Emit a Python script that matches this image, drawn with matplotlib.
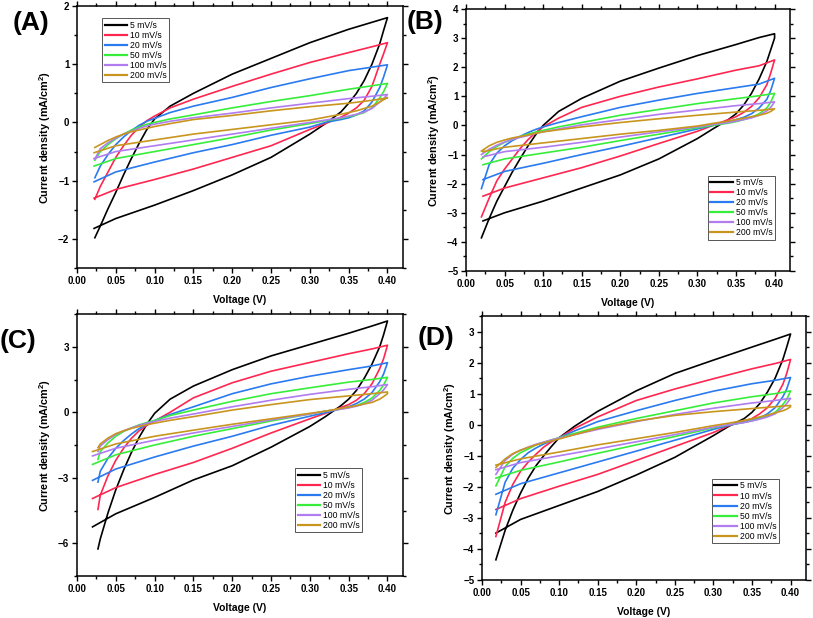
import matplotlib
matplotlib.use('Agg')
import matplotlib.pyplot as plt
from matplotlib.ticker import MultipleLocator

plt.rcParams['font.family'] = ['Liberation Sans', 'DejaVu Sans']
plt.rcParams['mathtext.fontset'] = 'custom'
plt.rcParams['mathtext.rm'] = 'Liberation Sans'
plt.rcParams['mathtext.bf'] = 'Liberation Sans:bold'

rates = ['5 mV/s', '10 mV/s', '20 mV/s', '50 mV/s', '100 mV/s', '200 mV/s']
colors = ['#000000', '#ff2650', '#2a7af0', '#36ee3a', '#b07cf0', '#c8961e']

# forward (anodic) and reverse scans, one row per scan rate
a_v_fwd = [0.023, 0.03, 0.04, 0.05, 0.06, 0.07, 0.08, 0.09, 0.10, 0.12, 0.15, 0.20, 0.25, 0.30, 0.35, 0.38, 0.40]
a_v_rev = [0.40, 0.395, 0.39, 0.38, 0.37, 0.36, 0.35, 0.34, 0.32, 0.30, 0.25, 0.20, 0.15, 0.10, 0.05, 0.022]
a_fwd = [
    [-1.98, -1.78, -1.48, -1.2, -0.9, -0.62, -0.36, -0.12, 0.06, 0.28, 0.5, 0.83, 1.1, 1.37, 1.6, 1.72, 1.80],
    [-1.32, -1.1, -0.85, -0.6, -0.4, -0.22, -0.08, 0.03, 0.11, 0.25, 0.4, 0.62, 0.83, 1.03, 1.2, 1.3, 1.37],
    [-0.95, -0.75, -0.55, -0.38, -0.25, -0.14, -0.05, 0.02, 0.07, 0.17, 0.28, 0.43, 0.6, 0.75, 0.89, 0.95, 0.99],
    [-0.65, -0.5, -0.38, -0.28, -0.2, -0.13, -0.08, -0.03, 0.0, 0.06, 0.13, 0.25, 0.36, 0.46, 0.57, 0.63, 0.67],
    [-0.63, -0.45, -0.35, -0.27, -0.2, -0.15, -0.1, -0.06, -0.03, 0.02, 0.08, 0.16, 0.25, 0.33, 0.41, 0.45, 0.48],
    [-0.43, -0.38, -0.31, -0.25, -0.2, -0.16, -0.13, -0.1, -0.07, -0.02, 0.05, 0.12, 0.2, 0.27, 0.33, 0.38, 0.42],
]
a_rev = [
    [1.80, 1.58, 1.35, 1.0, 0.72, 0.5, 0.33, 0.18, -0.02, -0.2, -0.6, -0.9, -1.17, -1.42, -1.65, -1.82],
    [1.37, 1.18, 1.0, 0.62, 0.38, 0.25, 0.16, 0.09, -0.02, -0.12, -0.4, -0.6, -0.8, -0.98, -1.15, -1.3],
    [0.99, 0.78, 0.6, 0.35, 0.2, 0.13, 0.08, 0.05, 0.0, -0.08, -0.22, -0.38, -0.52, -0.68, -0.85, -1.02],
    [0.67, 0.53, 0.42, 0.25, 0.17, 0.13, 0.1, 0.07, 0.03, -0.02, -0.13, -0.26, -0.38, -0.5, -0.62, -0.75],
    [0.48, 0.41, 0.35, 0.24, 0.18, 0.14, 0.11, 0.08, 0.04, 0.0, -0.1, -0.2, -0.3, -0.4, -0.5, -0.62],
    [0.43, 0.39, 0.35, 0.28, 0.24, 0.2, 0.17, 0.14, 0.09, 0.04, -0.04, -0.12, -0.2, -0.3, -0.4, -0.52],
]

b_v_fwd = [0.02, 0.03, 0.04, 0.05, 0.06, 0.07, 0.08, 0.09, 0.10, 0.12, 0.15, 0.20, 0.25, 0.30, 0.35, 0.38, 0.40]
b_v_rev = [0.40, 0.395, 0.39, 0.38, 0.37, 0.36, 0.35, 0.34, 0.32, 0.30, 0.25, 0.20, 0.15, 0.10, 0.05, 0.022]
b_fwd = [
    [-3.86, -3.2, -2.6, -2.1, -1.6, -1.15, -0.72, -0.33, 0.0, 0.48, 0.93, 1.52, 1.97, 2.4, 2.78, 3.02, 3.15],
    [-3.14, -2.5, -1.9, -1.5, -1.15, -0.8, -0.5, -0.25, -0.05, 0.25, 0.62, 1.0, 1.32, 1.6, 1.9, 2.05, 2.25],
    [-2.17, -1.35, -0.95, -0.7, -0.52, -0.38, -0.25, -0.14, -0.05, 0.1, 0.3, 0.62, 0.87, 1.1, 1.3, 1.42, 1.62],
    [-1.15, -0.9, -0.72, -0.58, -0.48, -0.38, -0.3, -0.23, -0.17, -0.05, 0.1, 0.35, 0.55, 0.75, 0.92, 1.02, 1.1],
    [-1.0, -0.82, -0.68, -0.57, -0.48, -0.41, -0.35, -0.28, -0.22, -0.12, 0.02, 0.2, 0.38, 0.53, 0.68, 0.75, 0.81],
    [-0.88, -0.7, -0.58, -0.5, -0.43, -0.38, -0.33, -0.27, -0.22, -0.15, -0.05, 0.1, 0.23, 0.35, 0.46, 0.52, 0.57],
]
b_rev = [
    [3.0, 2.6, 2.2, 1.6, 1.1, 0.7, 0.4, 0.2, -0.12, -0.45, -1.15, -1.7, -2.15, -2.6, -3.0, -3.28],
    [2.25, 1.8, 1.4, 0.95, 0.65, 0.45, 0.3, 0.2, 0.0, -0.2, -0.62, -1.05, -1.45, -1.8, -2.15, -2.43],
    [1.62, 1.2, 0.9, 0.6, 0.4, 0.28, 0.2, 0.12, 0.0, -0.12, -0.42, -0.72, -1.0, -1.3, -1.58, -1.86],
    [1.1, 0.8, 0.6, 0.4, 0.28, 0.2, 0.13, 0.08, 0.0, -0.08, -0.3, -0.52, -0.75, -0.95, -1.15, -1.35],
    [0.81, 0.62, 0.5, 0.35, 0.26, 0.2, 0.15, 0.1, 0.03, -0.05, -0.22, -0.4, -0.58, -0.75, -0.9, -1.08],
    [0.57, 0.48, 0.42, 0.35, 0.3, 0.25, 0.2, 0.15, 0.07, -0.02, -0.17, -0.3, -0.45, -0.6, -0.75, -0.9],
]

c_v_fwd = [0.027, 0.03, 0.04, 0.05, 0.06, 0.07, 0.08, 0.09, 0.10, 0.12, 0.15, 0.20, 0.25, 0.30, 0.35, 0.38, 0.40]
c_v_rev = [0.40, 0.395, 0.39, 0.38, 0.37, 0.36, 0.35, 0.34, 0.32, 0.30, 0.25, 0.20, 0.15, 0.10, 0.05, 0.02]
c_fwd = [
    [-6.26, -5.8, -4.6, -3.55, -2.65, -1.85, -1.15, -0.55, -0.05, 0.6, 1.2, 1.95, 2.58, 3.1, 3.62, 3.95, 4.18],
    [-4.45, -3.8, -2.9, -2.2, -1.65, -1.2, -0.85, -0.6, -0.4, 0.0, 0.66, 1.35, 1.88, 2.28, 2.68, 2.9, 3.07],
    [-3.2, -2.7, -2.1, -1.65, -1.3, -1.0, -0.75, -0.55, -0.38, -0.1, 0.25, 0.85, 1.3, 1.65, 1.95, 2.12, 2.27],
    [-2.16, -1.8, -1.4, -1.1, -0.88, -0.72, -0.58, -0.47, -0.38, -0.15, 0.1, 0.5, 0.85, 1.12, 1.38, 1.5, 1.6],
    [-1.8, -1.55, -1.25, -1.02, -0.85, -0.72, -0.6, -0.5, -0.42, -0.27, -0.08, 0.25, 0.55, 0.82, 1.05, 1.17, 1.27],
    [-1.62, -1.45, -1.18, -0.98, -0.85, -0.74, -0.65, -0.57, -0.5, -0.37, -0.2, 0.1, 0.35, 0.58, 0.75, 0.85, 0.93],
]
c_rev = [
    [4.18, 3.55, 3.0, 2.2, 1.55, 1.0, 0.6, 0.3, -0.2, -0.65, -1.6, -2.45, -3.1, -3.9, -4.65, -5.25],
    [3.07, 2.45, 2.0, 1.3, 0.85, 0.55, 0.35, 0.22, -0.05, -0.3, -0.95, -1.65, -2.3, -2.85, -3.45, -3.95],
    [2.27, 1.75, 1.4, 0.9, 0.6, 0.4, 0.25, 0.16, -0.02, -0.18, -0.6, -1.1, -1.55, -2.05, -2.6, -3.12],
    [1.6, 1.25, 1.0, 0.65, 0.45, 0.3, 0.22, 0.15, 0.05, -0.08, -0.4, -0.75, -1.1, -1.5, -1.95, -2.39],
    [1.27, 1.02, 0.85, 0.55, 0.38, 0.28, 0.2, 0.14, 0.05, -0.08, -0.35, -0.65, -0.95, -1.28, -1.65, -2.0],
    [0.85, 0.72, 0.6, 0.45, 0.38, 0.3, 0.24, 0.18, 0.05, -0.05, -0.3, -0.55, -0.82, -1.1, -1.45, -1.8],
]

d_v_fwd = [0.018, 0.03, 0.04, 0.05, 0.06, 0.07, 0.08, 0.09, 0.10, 0.12, 0.15, 0.20, 0.25, 0.30, 0.35, 0.38, 0.40]
d_v_rev = [0.40, 0.395, 0.39, 0.38, 0.37, 0.36, 0.35, 0.34, 0.32, 0.30, 0.25, 0.20, 0.15, 0.10, 0.05, 0.018]
d_fwd = [
    [-4.35, -3.4, -2.75, -2.2, -1.72, -1.32, -1.0, -0.7, -0.42, -0.05, 0.43, 1.09, 1.65, 2.08, 2.5, 2.75, 2.92],
    [-3.6, -2.5, -1.92, -1.5, -1.2, -0.95, -0.72, -0.55, -0.42, -0.12, 0.25, 0.78, 1.15, 1.48, 1.8, 1.97, 2.1],
    [-2.9, -1.85, -1.4, -1.12, -0.9, -0.75, -0.62, -0.52, -0.42, -0.2, 0.1, 0.45, 0.78, 1.08, 1.32, 1.43, 1.52],
    [-1.97, -1.35, -1.08, -0.9, -0.78, -0.65, -0.57, -0.49, -0.42, -0.28, -0.08, 0.2, 0.45, 0.7, 0.9, 1.0, 1.09],
    [-1.6, -1.15, -0.95, -0.82, -0.72, -0.63, -0.56, -0.49, -0.43, -0.32, -0.15, 0.1, 0.33, 0.53, 0.7, 0.78, 0.85],
    [-1.38, -1.1, -0.93, -0.82, -0.73, -0.65, -0.58, -0.52, -0.46, -0.32, -0.12, 0.12, 0.3, 0.42, 0.52, 0.58, 0.62],
]
d_rev = [
    [2.92, 2.5, 2.1, 1.5, 1.05, 0.68, 0.4, 0.2, -0.05, -0.35, -1.05, -1.62, -2.15, -2.6, -3.05, -3.49],
    [2.1, 1.65, 1.3, 0.85, 0.55, 0.35, 0.2, 0.12, -0.03, -0.25, -0.7, -1.15, -1.6, -1.98, -2.38, -2.73],
    [1.52, 1.15, 0.9, 0.55, 0.35, 0.22, 0.15, 0.08, -0.02, -0.15, -0.5, -0.85, -1.2, -1.55, -1.9, -2.24],
    [1.09, 0.82, 0.65, 0.4, 0.28, 0.2, 0.13, 0.08, 0.0, -0.1, -0.38, -0.65, -0.92, -1.2, -1.47, -1.72],
    [0.85, 0.68, 0.55, 0.35, 0.25, 0.18, 0.12, 0.07, 0.0, -0.08, -0.32, -0.55, -0.78, -1.0, -1.22, -1.45],
    [0.58, 0.5, 0.45, 0.38, 0.31, 0.25, 0.19, 0.14, 0.05, -0.03, -0.25, -0.45, -0.65, -0.88, -1.1, -1.3],
]

W, H = 813, 618
fig = plt.figure(figsize=(W / 100, H / 100), dpi=100)


def px_rect(left, top, right, bottom):
    return [left / W, 1 - bottom / H, (right - left) / W, (bottom - top) / H]


def draw_panel(rect, vf, fwd, vr, rev, ylim, ystep, leg_xy, label, label_xy):
    ax = fig.add_axes(px_rect(*rect))
    for i in range(len(rates)):
        ax.plot(vf + vr, fwd[i] + rev[i], color=colors[i], lw=1.2, label=rates[i])
    ax.set_xlim(0, 0.42)
    ax.set_ylim(*ylim)
    ax.xaxis.set_minor_locator(MultipleLocator(0.025))
    ax.yaxis.set_major_locator(MultipleLocator(ystep))
    ax.yaxis.set_minor_locator(MultipleLocator(ystep / 2))
    ax.set_xticks([0.0, 0.05, 0.10, 0.15, 0.20, 0.25, 0.30, 0.35, 0.40])
    ax.set_xticklabels(['0.00', '0.05', '0.10', '0.15', '0.20', '0.25', '0.30', '0.35', '0.40'])
    ax.tick_params(which='both', direction='out', top=True, right=True, width=1.0,
                   labelsize=7, pad=2)
    ax.tick_params(which='major', length=3.5)
    ax.tick_params(which='minor', length=2)
    for lab in ax.get_xticklabels() + ax.get_yticklabels():
        lab.set_fontweight('bold')
    for s in ax.spines.values():
        s.set_linewidth(1.1)
    ax.set_xlabel('Voltage (V)', fontsize=7.5, fontweight='bold', labelpad=7)
    ax.set_ylabel(r'Current density (mA/cm$^{\mathbf{2}}$)', fontsize=7.8, fontweight='bold', labelpad=4)
    leg = ax.legend(loc='upper left', bbox_to_anchor=leg_xy, borderaxespad=0, fontsize=6.2,
                    frameon=True, fancybox=False, edgecolor='#555555', framealpha=1,
                    handlelength=2.6, handletextpad=0.35, labelspacing=0.12, borderpad=0.3)
    leg.get_frame().set_linewidth(0.7)
    for line in leg.get_lines():
        line.set_linewidth(1.6)
    fig.text(label_xy[0] / W, 1 - label_xy[1] / H, label, fontsize=19, fontweight='bold',
             ha='center', va='center')
    return ax


draw_panel((77, 6, 403, 268), a_v_fwd, a_fwd, a_v_rev, a_rev, (-2.5, 2), 1,
           (0.077, 0.954), '(A)', (31, 23))
draw_panel((466, 9, 790, 271), b_v_fwd, b_fwd, b_v_rev, b_rev, (-5, 4), 1,
           (0.746, 0.364), '(B)', (425, 22))
draw_panel((77, 314, 403, 576), c_v_fwd, c_fwd, c_v_rev, c_rev, (-7.5, 4.5), 3,
           (0.669, 0.412), '(C)', (18, 341))
draw_panel((482, 316, 806, 580), d_v_fwd, d_fwd, d_v_rev, d_rev, (-5, 3.5), 1,
           (0.709, 0.383), '(D)', (436, 338))

fig.savefig('out.png', dpi=100)
